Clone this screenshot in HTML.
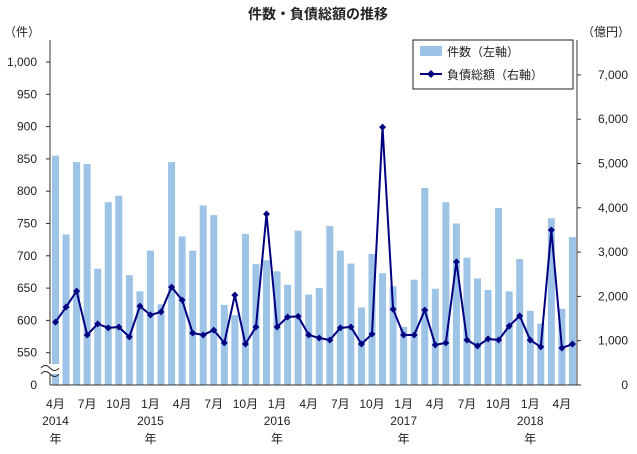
<!DOCTYPE html>
<html><head><meta charset="utf-8"><style>
body{margin:0;background:#fff;}
svg text{font-family:"Liberation Sans","Noto Sans CJK JP",sans-serif;fill:#222;}
</style></head><body>
<svg id="c" width="637" height="449" viewBox="0 0 637 449">
<text x="318" y="19" text-anchor="middle" font-size="14" font-weight="bold">件数・負債総額の推移</text>
<text x="4" y="36" font-size="12">（件）</text>
<text x="582" y="36" font-size="12">（億円）</text>
<g id="bars"></g><g id="line"></g><g id="axes"></g>
<g>
<rect x="413" y="40" width="160" height="49" fill="#fff" stroke="#222"/>
<rect x="420" y="46" width="22" height="10" fill="#9dc3e6"/>
<text x="447" y="56" font-size="12">件数（左軸）</text>
<line x1="420" y1="74" x2="442" y2="74" stroke="#000080" stroke-width="2"/>
<path d="M431 70 L435 74 L431 78 L427 74Z" fill="#000080"/>
<text x="447" y="79" font-size="12">負債総額（右軸）</text>
</g>
</svg>
<script>
const counts=[855,733,845,842,680,783,793,670,645,708,625,845,730,708,778,763,624,608,734,687,693,676,655,739,640,650,746,708,688,620,703,673,653,590,663,805,649,783,750,697,665,647,774,645,695,615,595,758,618,729];
const debt=[1420,1760,2120,1130,1380,1290,1310,1085,1780,1580,1650,2210,1920,1175,1130,1240,950,2030,925,1310,3860,1310,1535,1550,1130,1060,1015,1290,1310,925,1150,5820,1710,1130,1130,1690,905,950,2780,1015,880,1040,1015,1330,1560,1015,860,3500,835,925];
const leftTicks=[550,600,650,700,750,800,850,900,950,1000];
const rightTicks=[0,1000,2000,3000,4000,5000,6000,7000];
const monthLabels=["4月","7月","10月","1月"];
const yearLabels=["2014","2015","2016","2017","2018"];
const NS="http://www.w3.org/2000/svg";
function mk(t,a,p){const e=document.createElementNS(NS,t);for(const k in a)e.setAttribute(k,a[k]);p.appendChild(e);return e;}
const x0=55.5,pitch=10.55,base=385;
const xs=i=>x0+i*pitch;
const yl=v=>62+(1000-v)/50*32.3;
const yr=v=>base-v/1000*44.3;
const bars=document.getElementById('bars'),line=document.getElementById('line'),axes=document.getElementById('axes');
counts.forEach((v,i)=>{
 const r=mk('rect',{x:xs(i)-3.5,y:yl(v),width:7,height:base-yl(v),fill:'#9dc3e6'},bars);
 
 
});
const pl=mk('polyline',{points:debt.map((v,i)=>xs(i)+','+yr(v)).join(' '),fill:'none',stroke:'#000080','stroke-width':2},line);


debt.forEach((v,i)=>{
 const x=xs(i),y=yr(v);
 const m=mk('path',{d:`M${x} ${y-3.5}L${x+3.5} ${y}L${x} ${y+3.5}L${x-3.5} ${y}Z`,fill:'#000080'},line);
 
 
});
mk('line',{x1:50,y1:40,x2:50,y2:385,stroke:'#333'},axes);
mk('line',{x1:577,y1:40,x2:577,y2:385,stroke:'#333'},axes);
mk('line',{x1:50,y1:385,x2:577,y2:385,stroke:'#333'},axes);
mk('rect',{x:40,y:364,width:20,height:10,fill:'#fff'},axes);
mk('path',{d:'M41 368 q4 -5 9 0 t9 0 M41 374 q4 -5 9 0 t9 0',fill:'none',stroke:'#222'},axes);
leftTicks.forEach(v=>{
 const y=yl(v);
 mk('line',{x1:46,y1:y,x2:50,y2:y,stroke:'#333'},axes);
 const t=mk('text',{x:37,y:y+4,'font-size':12,'text-anchor':'end'},axes);
 t.textContent=v.toLocaleString('en-US');
 
 
});
const z=mk('text',{x:37,y:389,'font-size':12,'text-anchor':'end'},axes);z.textContent='0';


rightTicks.forEach(v=>{
 const y=yr(v);
 mk('line',{x1:577,y1:y,x2:581,y2:y,stroke:'#333'},axes);
 const t=mk('text',{x:628,y:y+4,'font-size':12,'text-anchor':'end'},axes);
 t.textContent=v.toLocaleString('en-US');
 
 
});
for(let i=0;i<counts.length;i+=3){
 const t=mk('text',{x:xs(i),y:408,'font-size':12,'text-anchor':'middle'},axes);
 t.textContent=monthLabels[(i/3)%4];
 
 
}
yearLabels.forEach((yv,k)=>{
 const i=k===0?0:9+12*(k-1);
 const t=mk('text',{x:xs(i),y:425,'font-size':12,'text-anchor':'middle'},axes);
 t.textContent=yv;
 
 
 const n=mk('text',{x:xs(i),y:443,'font-size':12,'text-anchor':'middle'},axes);
 n.textContent='年';
 
 
});
</script>
</body></html>
